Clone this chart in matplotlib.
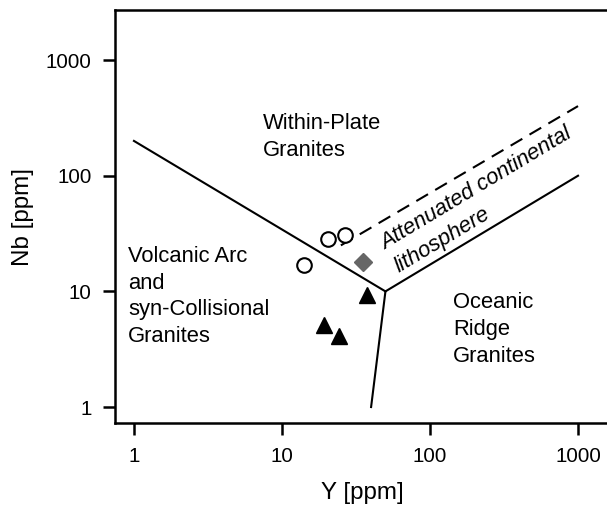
import matplotlib
matplotlib.use('Agg')
import matplotlib.pyplot as plt

plt.rcParams['font.family'] = ['Liberation Sans', 'DejaVu Sans']

# Discrimination field boundaries (Y, Nb)
vag_wpg_y = [1, 50]
vag_wpg_nb = [200, 10]
wpg_org_y = [50, 1000]
wpg_org_nb = [10, 100]
vag_org_y = [50, 40]
vag_org_nb = [10, 1]
acl_y = [25, 1000]
acl_nb = [25, 400]

# Samples
circle_y = [14.1, 20.5, 26.6]
circle_nb = [16.9, 28.4, 30.8]
triangle_y = [37.5, 19.2, 24.3]
triangle_nb = [9.3, 5.1, 4.1]
diamond_y = [35.3]
diamond_nb = [18.0]

ticks = [1, 10, 100, 1000]
tick_labels = ['1', '10', '100', '1000']

fig = plt.figure(figsize=(6.07, 5.07), dpi=100)
ax = fig.add_axes([115 / 607, 1 - 423 / 507, 495 / 607, 413 / 507])
ax.set_xscale('log')
ax.set_yscale('log')
ax.set_xlim(10 ** -0.128, 10 ** 3.216)
ax.set_ylim(10 ** -0.138, 10 ** 3.433)

# Field boundaries
ax.plot(vag_wpg_y, vag_wpg_nb, color='black', lw=1.5)
ax.plot(wpg_org_y, wpg_org_nb, color='black', lw=1.5)
ax.plot(vag_org_y, vag_org_nb, color='black', lw=1.5)
ax.plot(acl_y, acl_nb, color='black', lw=1.5, dashes=(6.5, 4))

# Samples
ax.plot(circle_y, circle_nb, 'o', ms=10.5, mfc='white', mec='black', mew=1.5, ls='none')
ax.plot(triangle_y, triangle_nb, '^', ms=12, color='black', ls='none')
ax.plot(diamond_y, diamond_nb, 'D', ms=9, color='#666666', ls='none')

# Field labels (anchored at baseline of last line)
fs = 15.8
ls_ = 1.35
ax.text(7.44, 149, 'Within-Plate\nGranites', fontsize=fs, va='baseline', ha='left',
        linespacing=ls_)
ax.text(0.91, 3.65, 'Volcanic Arc\nand\nsyn-Collisional\nGranites', fontsize=fs,
        va='baseline', ha='left', linespacing=ls_)
ax.text(143, 2.47, 'Oceanic\nRidge\nGranites', fontsize=fs, va='baseline', ha='left',
        linespacing=ls_)
ax.text(58.9, 15.9, 'Attenuated continental\nlithosphere', fontsize=fs, style='italic',
        rotation=31, rotation_mode='anchor', va='baseline', ha='left', linespacing=ls_)

ax.set_xticks(ticks)
ax.set_xticklabels(tick_labels)
ax.set_yticks(ticks)
ax.set_yticklabels(tick_labels)
ax.minorticks_off()
ax.tick_params(length=8.5, width=1.8, pad=8.5, labelsize=14.8)
for s in ax.spines.values():
    s.set_linewidth(1.8)

ax.set_xlabel('Y [ppm]', fontsize=17.4, labelpad=12)
ax.set_ylabel('Nb [ppm]', fontsize=17.4, labelpad=8)

fig.savefig('out.png', dpi=100)
